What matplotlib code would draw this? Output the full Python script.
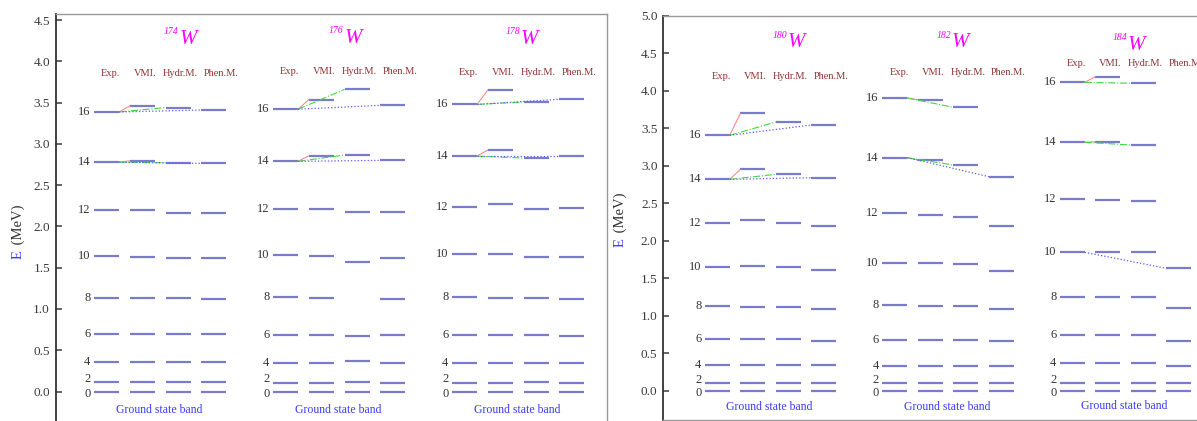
import matplotlib
matplotlib.use('Agg')
import matplotlib.pyplot as plt
from matplotlib.ticker import MultipleLocator, FormatStrFormatter

plt.rcParams['font.family'] = ['Liberation Serif', 'DejaVu Serif']

# ---- data (MeV), ground state band levels, spins 0..16 ----
spins = [0, 2, 4, 6, 8, 10, 12, 14, 16]
models = ['Exp.', 'VMI.', 'Hydr.M.', 'Phen.M.']

w174_exp = [0, 0.112, 0.356, 0.700, 1.134, 1.636, 2.196, 2.778, 3.386]
w174_vmi = [0, 0.111, 0.355, 0.700, 1.133, 1.635, 2.200, 2.795, 3.460]
w174_hydr = [0, 0.111, 0.356, 0.700, 1.130, 1.620, 2.165, 2.770, 3.440]
w174_phen = [0, 0.111, 0.356, 0.700, 1.125, 1.615, 2.165, 2.765, 3.410]

w176_exp = [0, 0.109, 0.350, 0.690, 1.140, 1.653, 2.207, 2.788, 3.420]
w176_vmi = [0, 0.109, 0.350, 0.690, 1.130, 1.640, 2.207, 2.856, 3.535]
w176_hydr = [0, 0.120, 0.370, 0.676, None, 1.573, 2.180, 2.865, 3.660]
w176_phen = [0, 0.109, 0.350, 0.690, 1.117, 1.620, 2.180, 2.800, 3.467]

w178_exp = [0, 0.106, 0.340, 0.684, 1.140, 1.665, 2.238, 2.852, 3.478]
w178_vmi = [0, 0.106, 0.340, 0.684, 1.130, 1.665, 2.267, 2.925, 3.652]
w178_hydr = [0, 0.110, 0.340, 0.684, 1.130, 1.633, 2.207, 2.828, 3.507]
w178_phen = [0, 0.103, 0.340, 0.676, 1.117, 1.633, 2.219, 2.852, 3.540]

w180_exp = [0, 0.103, 0.347, 0.693, 1.137, 1.658, 2.236, 2.822, 3.409]
w180_vmi = [0, 0.103, 0.342, 0.689, 1.124, 1.671, 2.276, 2.956, 3.702]
w180_hydr = [0, 0.103, 0.347, 0.693, 1.124, 1.649, 2.244, 2.889, 3.587]
w180_phen = [0, 0.103, 0.342, 0.671, 1.098, 1.613, 2.204, 2.844, 3.547]

w182_exp = [0, 0.100, 0.333, 0.680, 1.147, 1.711, 2.369, 3.111, 3.907]
w182_vmi = [0, 0.100, 0.333, 0.680, 1.138, 1.702, 2.347, 3.080, 3.884]
w182_hydr = [0, 0.100, 0.333, 0.680, 1.138, 1.693, 2.316, 3.013, 3.782]
w182_phen = [0, 0.100, 0.333, 0.667, 1.098, 1.604, 2.204, 2.858, None]

w184_exp = [0, 0.103, 0.369, 0.747, 1.249, 1.849, 2.560, 3.316, 4.116]
w184_vmi = [0, 0.105, 0.369, 0.747, 1.249, 1.849, 2.547, 3.324, 4.191]
w184_hydr = [0, 0.105, 0.369, 0.747, 1.249, 1.849, 2.533, 3.280, 4.103]
w184_phen = [0, 0.103, 0.333, 0.671, 1.111, 1.636, None, None, None]

levels = {
    '174': [w174_exp, w174_vmi, w174_hydr, w174_phen],
    '176': [w176_exp, w176_vmi, w176_hydr, w176_phen],
    '178': [w178_exp, w178_vmi, w178_hydr, w178_phen],
    '180': [w180_exp, w180_vmi, w180_hydr, w180_phen],
    '182': [w182_exp, w182_vmi, w182_hydr, w182_phen],
    '184': [w184_exp, w184_vmi, w184_hydr, w184_phen],
}
link_spins = [14, 16]
extra_links = {'184': {3: [10]}}  # Exp -> Phen.M. at 10+

# ---- style ----
LEVEL_C = '#7b7bcc'
LINK_STYLES = {1: dict(color='#ff7a7a', lw=0.7, ls='-'),
               2: dict(color='#3ddc3d', lw=0.8, ls='-.'),
               3: dict(color='#5a5aff', lw=0.9, ls=':')}
HEAD_C = '#8e3333'
NUC_STEP = 5.0
COL_W = 0.7
HEAD_DX = [0.47, 1.42, 2.42, 3.55]


def draw_panel(ax, names, title_dx, title_y, head_y, band_y):
    for i, name in enumerate(names):
        x0 = i * NUC_STEP
        cols = levels[name]
        for j, vals in enumerate(cols):
            for e in vals:
                if e is None:
                    continue
                ax.hlines(e, x0 + j, x0 + j + COL_W, color=LEVEL_C, lw=1.6)
        exp = cols[0]
        # connecting lines
        for j in (1, 2, 3):
            js = list(link_spins) + extra_links.get(name, {}).get(j, [])
            for J in js:
                k = spins.index(J)
                if cols[j][k] is None:
                    continue
                ax.plot([x0 + COL_W, x0 + j], [exp[k], cols[j][k]],
                        **LINK_STYLES[j])
        # spin labels
        for J, e in zip(spins, exp):
            dy = {0: -1.5, 2: 2.5}.get(J, 0)
            ax.annotate(str(J), (x0 - 0.1, e), xytext=(0, dy),
                        textcoords='offset points', ha='right', va='center',
                        fontsize=9, color='#333333')
        # headers
        for j, m in enumerate(models):
            ax.text(x0 + HEAD_DX[j], head_y[i], m, ha='center', va='center',
                    fontsize=7.5, color=HEAD_C)
        # nucleus title: small italic mass number + big italic W
        tx = x0 + title_dx[i]
        ax.text(tx, title_y[i], 'W', ha='left', va='center', fontsize=15,
                style='italic', color='#ff00ff')
        ax.annotate(name, (tx, title_y[i]), xytext=(-0.5, 2.5),
                    textcoords='offset points', ha='right', va='bottom',
                    fontsize=7, style='italic', color='#ff00ff')
        ax.text(x0 + 1.82, band_y[i], 'Ground state band', ha='center',
                va='center', fontsize=8.5, color='#3c3cff')


def style_axes(ax, ymin, ymax, ytop, xmin, xmax):
    ax.set_ylim(ymin, ymax)
    ax.set_xlim(xmin, xmax)
    ax.yaxis.set_major_locator(MultipleLocator(0.5))
    ax.yaxis.set_major_formatter(FormatStrFormatter('%.1f'))
    ax.set_yticks([t * 0.5 for t in range(int(ytop / 0.5) + 1)])
    ax.tick_params(axis='y', direction='in', length=4, width=1.1,
                   labelsize=9.5, colors='#3a3a3a', pad=4)
    ax.set_xticks([])
    ax.spines['left'].set_color('#333333')
    ax.spines['left'].set_linewidth(1.3)
    for s in ('top', 'right', 'bottom'):
        ax.spines[s].set_color('#999999')
        ax.spines[s].set_linewidth(1.0)


def ylabel(ax, x, y):
    ax.text(x, y, 'E', rotation=90, transform=ax.transAxes, ha='center',
            va='top', fontsize=10.5, color='#3c3cff')
    ax.text(x, y + 0.005, ' (MeV)', rotation=90, transform=ax.transAxes,
            ha='center', va='bottom', fontsize=10.5, color='#333333')


fig = plt.figure(figsize=(11.97, 4.21), dpi=100)

# left panel
ax1 = fig.add_axes([55.5 / 1197, 0, (607 - 55.5) / 1197, 1 - 14 / 421])
draw_panel(ax1, ['174', '176', '178'], [2.38, 1.99, 1.93],
           [4.26, 4.28, 4.26], [3.85, 3.88, 3.87], [-0.22, -0.22, -0.22])
style_axes(ax1, -0.357, 4.573, 4.5, -1.075, 14.33)
ax1.spines['bottom'].set_visible(False)
ylabel(ax1, -0.068, 0.42)

# right panel
ax2 = fig.add_axes([663 / 1197, 1 / 421, (1215 - 663) / 1197, (420 - 16) / 421])
draw_panel(ax2, ['180', '182', '184'], [2.34, 1.95, 1.92],
           [4.64, 4.64, 4.61], [4.19, 4.24, 4.37], [-0.21, -0.22, -0.2])
style_axes(ax2, -0.387, 5.0, 5.0, -1.18, 14.37)
ax2.spines['right'].set_visible(False)
ylabel(ax2, -0.078, 0.45)

fig.savefig('out.png', dpi=100)
